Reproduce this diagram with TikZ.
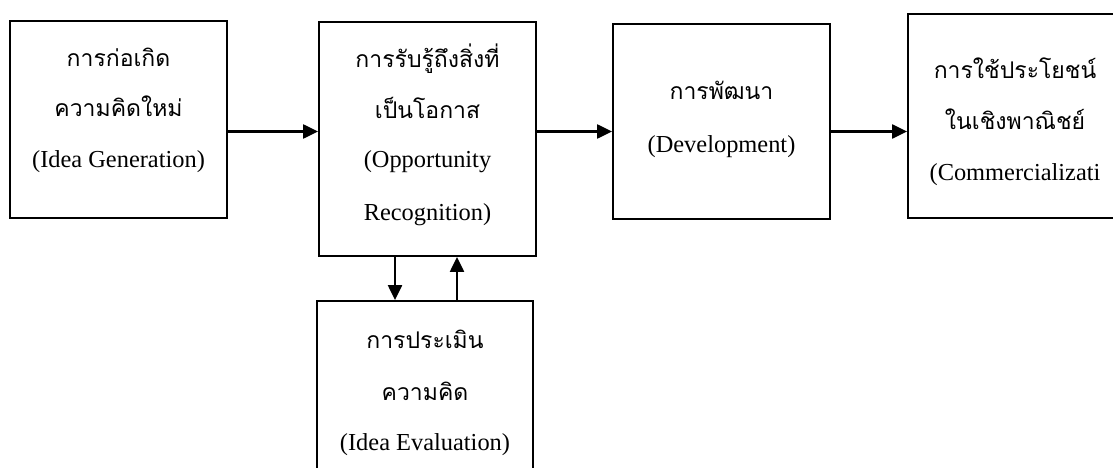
\documentclass[tikz,border=0pt]{standalone}
\usepackage{fontspec}
\setmainfont{Liberation Serif}
\newfontfamily\thai[Script=Thai]{Loma}
\usetikzlibrary{arrows.meta}
\begin{document}
\begin{tikzpicture}[x=1pt,y=-1pt,
  stagebox/.style={draw=black,line width=1.8pt,minimum width=217pt,inner sep=0pt},
  arr/.style={line width=2.2pt,-{Triangle[length=15pt,width=14pt]}},
  th/.style={anchor=base,inner sep=0pt,font=\thai\fontsize{23}{28}\selectfont},
  en/.style={anchor=base,inner sep=0pt,font=\fontsize{24.4}{30}\selectfont}]
\useasboundingbox (0,0) rectangle (1113,468);
% stage boxes
\node[stagebox,minimum height=197pt] (b1) at (118.5,119.5) {};
\node[stagebox,minimum height=234pt] (b2) at (427.5,139) {};
\node[stagebox,minimum height=195pt] (b3) at (721.5,121.5) {};
\node[stagebox,minimum height=204pt] (b4) at (1016.5,116) {};
\node[stagebox,minimum height=190pt,minimum width=216pt] (b5) at (425,396) {};
% labels
\node[th] (l1a) at (118.5,67) {การก่อเกิด};
\node[th] (l1b) at (118.5,117) {ความคิดใหม่};
\node[en] (l1c) at (118.5,167) {(Idea Generation)};
\node[th] (l2a) at (427.5,68) {การรับรู้ถึงสิ่งที่};
\node[th] (l2b) at (427.5,118) {เป็นโอกาส};
\node[en] (l2c) at (427.5,167) {(Opportunity};
\node[en] (l2d) at (427.5,220) {Recognition)};
\node[th] (l3a) at (721.5,100) {การพัฒนา};
\node[en] (l3b) at (721.5,153) {(Development)};
\node[th] (l4a) at (1015,79) {การใช้ประโยชน์};
\node[th] (l4b) at (1015,130) {ในเชิงพาณิชย์};
\node[en] (l4c) at (1015,180) {(Commercializati};
\node[th] (l5a) at (425,348) {การประเมิน};
\node[th] (l5b) at (425,400) {ความคิด};
\node[en] (l5c) at (425,450) {(Idea Evaluation)};
% connectors
\coordinate (row) at (0,131.5);
\coordinate (down) at (395,0);
\coordinate (up) at (457,0);
\draw[arr] (b1.east |- row) -- (b2.west |- row);
\draw[arr] (b2.east |- row) -- (b3.west |- row);
\draw[arr] (b3.east |- row) -- (b4.west |- row);
\draw[arr] (down |- b2.south) -- (down |- b5.north);
\draw[arr] (up |- b5.north) -- (up |- b2.south);
\end{tikzpicture}
\end{document}
